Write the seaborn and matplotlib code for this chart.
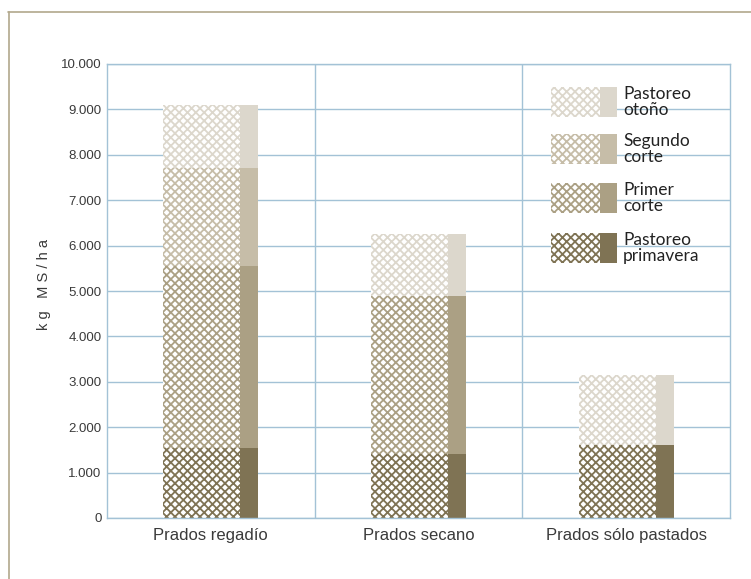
import matplotlib
matplotlib.use("Agg")
import matplotlib.pyplot as plt
import seaborn as sns
from matplotlib.patches import Rectangle
from matplotlib.lines import Line2D
from matplotlib.ticker import FuncFormatter, FixedLocator

# Producción por componente (kg MS/ha)
categorias = ["Prados regadío", "Prados secano", "Prados sólo pastados"]
pastoreo_primavera = [1550, 1400, 1600]
primer_corte = [4000, 3500, 0]
segundo_corte = [2150, 0, 0]
pastoreo_otono = [1400, 1350, 1550]

etiquetas = ["Pastoreo\notoño", "Segundo\ncorte", "Primer\ncorte", "Pastoreo\nprimavera"]
colores = ["#dcd7cc", "#c6bda8", "#aba084", "#7f7354"]
marcas_y = [0, 1000, 2000, 3000, 4000, 5000, 6000, 7000, 8000, 9000, 10000]

sns.set_theme(style="white")
plt.rcParams["font.family"] = ["Liberation Sans", "DejaVu Sans"]
plt.rcParams["hatch.linewidth"] = 1.3

AZUL = "#a3c2d6"
TEXTO = "#3a3a3a"
TRAMA = "xxxx"

fig = plt.figure(figsize=(7.51, 5.79), dpi=100)
ax = fig.add_axes([107 / 751, 1 - 518 / 579, 623 / 751, 454 / 579])

# Acumulados, de abajo arriba
capas = [pastoreo_primavera, primer_corte, segundo_corte, pastoreo_otono]
acumulados = []
total = [0, 0, 0]
for capa in capas:
    total = [t + v for t, v in zip(total, capa)]
    acumulados.append(total)

ANCHO = 0.457
FRAC_TRAMA = 0.81

# Se dibuja del acumulado mayor al menor: cada capa tapa la parte inferior
for acum, color in zip(acumulados[::-1], colores):
    n0 = len(ax.patches)
    sns.barplot(x=categorias, y=acum, color="white", saturation=1,
                edgecolor=color, hatch=TRAMA, linewidth=0, width=ANCHO,
                errorbar=None, ax=ax, zorder=2)
    trama = ax.patches[n0:]
    n1 = len(ax.patches)
    sns.barplot(x=categorias, y=acum, color=color, saturation=1,
                linewidth=0, width=ANCHO, errorbar=None, ax=ax, zorder=2)
    solidos = ax.patches[n1:]
    for pt, ps in zip(trama, solidos):
        x0, w = pt.get_x(), pt.get_width()
        pt.set_width(w * FRAC_TRAMA)
        ps.set_x(x0 + w * FRAC_TRAMA)
        ps.set_width(w * (1 - FRAC_TRAMA))

ax.set_xlim(-0.5, 2.5)
ax.set_ylim(0, 10000)
ax.yaxis.set_major_locator(FixedLocator(marcas_y))
ax.yaxis.set_major_formatter(FuncFormatter(lambda v, p: f"{int(v):,}".replace(",", ".")))

ax.set_axisbelow(True)
ax.yaxis.grid(True, color=AZUL, linewidth=1)
for xb in (0.5, 1.5):
    ax.axvline(xb, color=AZUL, linewidth=1, zorder=0.5)
for s in ax.spines.values():
    s.set_color(AZUL)
    s.set_linewidth(1)

ax.xaxis.set_minor_locator(FixedLocator([-0.5, 0.5, 1.5, 2.5]))
ax.tick_params(axis="x", which="minor", length=5, width=1, color=AZUL, direction="out")
ax.tick_params(axis="x", which="major", length=0, pad=7, labelsize=12, labelcolor=TEXTO)
ax.tick_params(axis="y", length=0, pad=4, labelsize=9.5, labelcolor=TEXTO)
ax.set_xlabel("")

ax.set_ylabel("k g   M S / h a", fontsize=10.5, color=TEXTO)
ax.yaxis.set_label_coords(-0.09, 0.515)

# Leyenda: bloque tramado + franja sólida por componente
tops = [87, 134, 183, 233]
x_trama = (551 - 107) / 623
x_franja = (600 - 107) / 623
x_fin = (617 - 107) / 623
alto = 30 / 454
for top, color, texto in zip(tops, colores, etiquetas):
    y0 = (518 - top) / 454 - alto
    ax.add_patch(Rectangle((x_trama, y0), x_franja - x_trama, alto,
                           transform=ax.transAxes, facecolor="white",
                           edgecolor=color, hatch=TRAMA, linewidth=0, zorder=3))
    ax.add_patch(Rectangle((x_franja, y0), x_fin - x_franja, alto,
                           transform=ax.transAxes, facecolor=color,
                           linewidth=0, zorder=3))
    ax.text((623 - 107) / 623, y0 + alto / 2, texto, transform=ax.transAxes,
            ha="left", va="center", fontsize=12.5, color="#222222",
            family=["Lato", "DejaVu Sans"], linespacing=0.95, zorder=4)

# Marco de la página
MARCO = "#b2a88c"
fig.add_artist(Line2D([8 / 751, 1], [1 - 12 / 579, 1 - 12 / 579],
                      transform=fig.transFigure, color=MARCO, linewidth=1.2))
fig.add_artist(Line2D([9 / 751, 9 / 751], [0, 1 - 12 / 579],
                      transform=fig.transFigure, color=MARCO, linewidth=1.2))

fig.savefig("out.png", dpi=100, facecolor="white")
